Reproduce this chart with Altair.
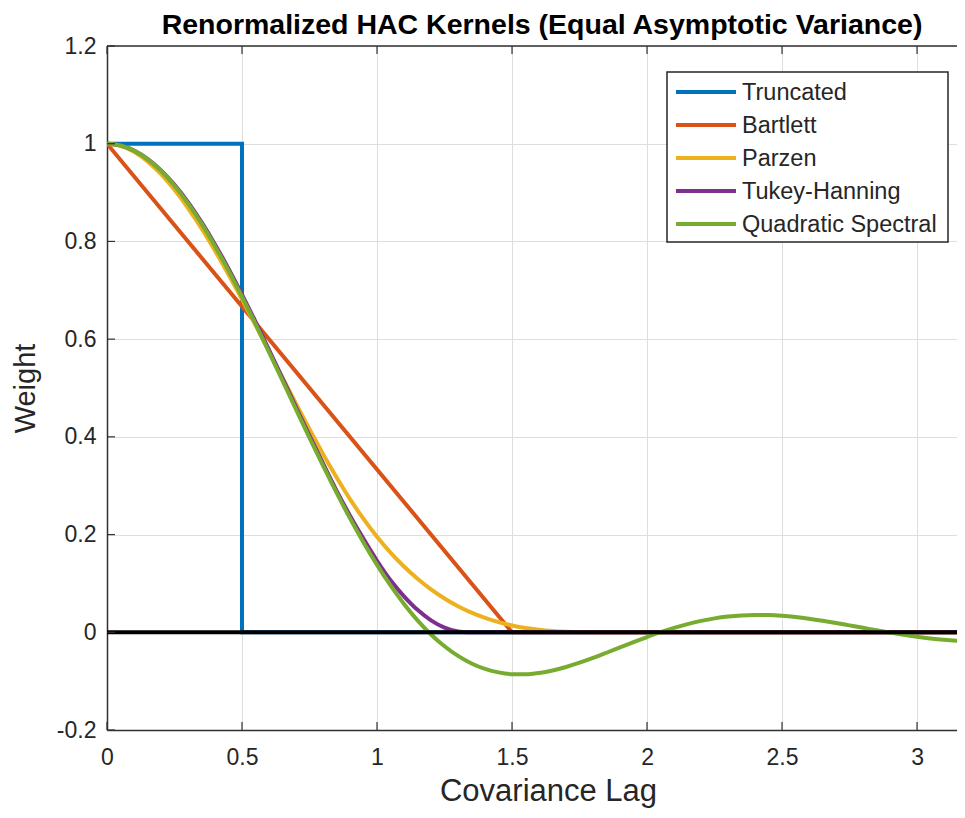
import altair as alt
import pandas as pd

# ---------------- data ----------------
names = ["Truncated", "Bartlett", "Parzen", "Tukey-Hanning", "Quadratic Spectral"]
colors = ["#0072BD", "#D95319", "#EDB120", "#7E2F8E", "#77AC30"]

trunc_x = [0.0, 0.5, 0.5, 3.2]
trunc_y = [1.0, 1.0, 0.0, 0.0]

bart_x = [0.0, 1.5, 3.2]
bart_y = [1.0, 0.0, 0.0]

parzen_x = [0.0, 0.05, 0.1, 0.15, 0.2, 0.25, 0.3, 0.35, 0.4, 0.45, 0.5, 0.55, 0.6,
            0.65, 0.7, 0.75, 0.8, 0.85, 0.9, 0.95, 1.0, 1.05, 1.1, 1.15, 1.2, 1.25,
            1.3, 1.35, 1.4, 1.45, 1.5, 1.55, 1.6, 1.65, 1.7, 1.75, 1.8, 1.8543, 3.2]
parzen_y = [1.0, 0.9958, 0.9835, 0.9639, 0.9377, 0.9056, 0.8684, 0.8266, 0.781, 0.7324,
            0.6814, 0.6287, 0.5751, 0.5212, 0.4677, 0.4155, 0.365, 0.3172, 0.2726, 0.232,
            0.1956, 0.1632, 0.1346, 0.1096, 0.0879, 0.0692, 0.0534, 0.0402, 0.0294, 0.0207,
            0.014, 0.0088, 0.0052, 0.0027, 0.0012, 0.0004, 0.0001, 0.0, 0.0]

th_x = [0.0, 0.05, 0.1, 0.15, 0.2, 0.25, 0.3, 0.35, 0.4, 0.45, 0.5, 0.55, 0.6,
        0.65, 0.7, 0.75, 0.8, 0.85, 0.9, 0.95, 1.0, 1.05, 1.1, 1.15, 1.2, 1.25,
        1.3, 1.3333, 3.2]
th_y = [1.0, 0.9965, 0.9862, 0.9691, 0.9455, 0.9157, 0.8802, 0.8394, 0.7939, 0.7443,
        0.6913, 0.6357, 0.5782, 0.5196, 0.4608, 0.4025, 0.3455, 0.2901, 0.2388, 0.1912,
        0.1464, 0.1065, 0.0737, 0.0459, 0.0245, 0.0096, 0.0015, 0.0, 0.0]

qs_x = [0.0, 0.05, 0.1, 0.15, 0.2, 0.25, 0.3, 0.35, 0.4, 0.45, 0.5, 0.55, 0.6,
        0.65, 0.7, 0.75, 0.8, 0.85, 0.9, 0.95, 1.0, 1.05, 1.1, 1.15, 1.2, 1.25,
        1.3, 1.35, 1.4, 1.45, 1.5, 1.55, 1.6, 1.65, 1.7, 1.75, 1.8, 1.85, 1.9,
        1.95, 2.0, 2.05, 2.1, 2.15, 2.2, 2.25, 2.3, 2.35, 2.4, 2.45, 2.5, 2.55,
        2.6, 2.65, 2.7, 2.75, 2.8, 2.85, 2.9, 2.95, 3.0, 3.05, 3.1, 3.15, 3.2]
qs_y = [1.0, 0.9964, 0.9859, 0.9684, 0.9443, 0.914, 0.8778, 0.8364, 0.7903, 0.7403,
        0.6869, 0.6311, 0.5735, 0.5149, 0.4561, 0.3979, 0.3409, 0.2859, 0.2333, 0.1838,
        0.1379, 0.0958, 0.058, 0.0245, -0.0044, -0.0287, -0.0484, -0.0638, -0.0749,
        -0.0821, -0.0857, -0.0859, -0.0833, -0.0782, -0.071, -0.0623, -0.0525, -0.0419,
        -0.031, -0.0201, -0.0097, 0.0002, 0.009, 0.0168, 0.0233, 0.0285, 0.0322, 0.0346,
        0.0356, 0.0353, 0.0338, 0.0313, 0.0279, 0.0238, 0.0192, 0.0142, 0.0092, 0.0041,
        -0.0007, -0.0052, -0.0092, -0.0127, -0.0155, -0.0175, -0.0189]

x_ticks = [0, 0.5, 1, 1.5, 2, 2.5, 3]
y_ticks = [-0.2, 0, 0.2, 0.4, 0.6, 0.8, 1.0, 1.2]

title_text = "Renormalized HAC Kernels (Equal Asymptotic Variance)"
x_title = "Covariance Lag"
y_title = "Weight"

# ---------------- layout / style ----------------
W, H = 850, 684
FONT = "Liberation Sans"
TXT = "#262626"
X_DOM = [0, 3.148]
Y_DOM = [-0.2, 1.2]

xs = alt.Scale(domain=X_DOM, nice=False, zero=False)
ys = alt.Scale(domain=Y_DOM, nice=False, zero=False)
cs = alt.Scale(domain=names, range=colors)

x_axis = alt.Axis(values=x_ticks, format="~g", title=x_title, ticks=False,
                  labelFontSize=23, labelColor=TXT, labelFont=FONT, labelPadding=16,
                  domainColor="#303030", domainWidth=1.5,
                  grid=True, gridColor="#dedede", gridWidth=1,
                  titleFont=FONT, titleFontSize=31, titleFontWeight="normal", titleColor=TXT,
                  titleX=441, titleY=70, titleBaseline="alphabetic", titleAlign="center",
                  labelFlush=False, labelOverlap=False)
y_axis = alt.Axis(values=y_ticks, title=y_title, ticks=False,
                  labelExpr="datum.value < 0 ? '-' + format(-datum.value, '~g') : format(datum.value, '~g')",
                  labelFontSize=23, labelColor=TXT, labelFont=FONT, labelPadding=11,
                  domainColor="#303030", domainWidth=1.5,
                  grid=True, gridColor="#dedede", gridWidth=1,
                  titleFont=FONT, titleFontSize=29, titleFontWeight="normal", titleColor=TXT,
                  titleX=-82, titleY=H / 2, titleAngle=270, titleBaseline="middle",
                  titleAlign="center", labelFlush=False, labelOverlap=False)


def X(field):
    return alt.X(field, scale=xs, axis=x_axis)


def Y(field):
    return alt.Y(field, scale=ys, axis=y_axis)


def series_df(name, xv, yv):
    return pd.DataFrame({"lag": xv, "weight": yv, "kernel": [name] * len(xv)})


series = [
    ("Truncated", trunc_x, trunc_y, "linear"),
    ("Bartlett", bart_x, bart_y, "linear"),
    ("Parzen", parzen_x, parzen_y, "monotone"),
    ("Tukey-Hanning", th_x, th_y, "monotone"),
    ("Quadratic Spectral", qs_x, qs_y, "monotone"),
]

layers = []
for name, xv, yv, interp in series:
    layers.append(
        alt.Chart(series_df(name, xv, yv))
        .mark_line(strokeWidth=4, interpolate=interp, clip=True, strokeCap="butt")
        .encode(x=X("lag:Q"), y=Y("weight:Q"),
                color=alt.Color("kernel:N", scale=cs, legend=None))
    )

# bold zero line
zero = alt.Chart(pd.DataFrame({"v": [0]})).mark_rule(color="black", strokeWidth=4).encode(
    y=Y("v:Q")
)

# top frame line
top = alt.Chart(pd.DataFrame({"v": [1.2]})).mark_rule(color="#303030", strokeWidth=1.5).encode(
    y=Y("v:Q")
)

# inward tick marks (bottom, top, left)
xt = pd.DataFrame({"t": x_ticks})
yt = pd.DataFrame({"t": y_ticks})
tick_b = alt.Chart(xt).mark_rule(color="#303030", strokeWidth=1.2).encode(
    x=X("t:Q"), y=alt.value(H), y2=alt.value(H - 8))
tick_t = alt.Chart(xt).mark_rule(color="#303030", strokeWidth=1.2).encode(
    x=X("t:Q"), y=alt.value(0), y2=alt.value(8))
tick_l = alt.Chart(yt).mark_rule(color="#303030", strokeWidth=1.2).encode(
    y=Y("t:Q"), x=alt.value(0), x2=alt.value(8))

# chart title as a text mark (exact placement)
title_mark = alt.Chart(pd.DataFrame({"t": [title_text]})).mark_text(
    align="center", baseline="alphabetic", fontSize=28.5, fontWeight="bold",
    font=FONT, color="black"
).encode(x=alt.value(435), y=alt.value(-12), text="t:N")

# manual legend (MATLAB style box)
LX0, LX1, LY0, LY1 = 560, 841, 26, 196
legend_box = alt.Chart(pd.DataFrame({"k": [0]})).mark_rect(
    fill="white", stroke="#262626", strokeWidth=1.5
).encode(x=alt.value(LX0), x2=alt.value(LX1), y=alt.value(LY0), y2=alt.value(LY1))

legend_layers = [legend_box]
for i, (name, col) in enumerate(zip(names, colors)):
    ry = 46 + 33 * i
    d = pd.DataFrame({"kernel": [name]})
    legend_layers.append(
        alt.Chart(d).mark_rule(color=col, strokeWidth=4).encode(
            x=alt.value(569), x2=alt.value(629), y=alt.value(ry))
    )
    legend_layers.append(
        alt.Chart(d).mark_text(align="left", baseline="middle", fontSize=23.5,
                               font=FONT, color=TXT).encode(
            x=alt.value(635), y=alt.value(ry + 1), text="kernel:N")
    )

chart = alt.layer(
    *layers, zero, top, tick_b, tick_t, tick_l, title_mark, *legend_layers
).properties(
    width=W,
    height=H,
    autosize=alt.AutoSizeParams(type="none"),
    padding={"left": 99, "top": 38, "right": 0, "bottom": 80},
    background="white",
).configure_view(stroke=None)

chart.save("out.html", embed_options={"renderer": "svg", "actions": False})
